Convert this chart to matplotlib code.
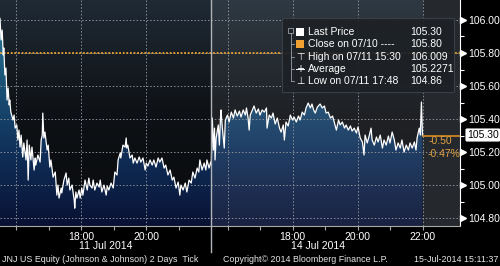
import numpy as np
import matplotlib
matplotlib.use("Agg")
import matplotlib.pyplot as plt
import matplotlib.transforms as mtransforms
from matplotlib.colors import LinearSegmentedColormap
from matplotlib.patches import Polygon, Rectangle
from matplotlib.lines import Line2D

plt.rcParams['font.family'] = ['Liberation Sans', 'DejaVu Sans']

# minutes after 15:30 for each session, and the tick price
day1_min = [0, 2, 4, 6, 7, 9, 11, 13, 15, 17, 18, 20, 24, 26, 28, 31, 33, 35, 37, 39,
            42, 44, 48, 50, 52, 54, 57, 59, 63, 65, 66, 70, 74, 76, 78, 79, 81, 83, 87, 89,
            92, 94, 98, 102, 105, 107, 109, 113, 114, 118, 122, 124, 127, 129, 133, 137, 138, 140, 142, 146,
            148, 151, 153, 157, 161, 164, 166, 170, 172, 175, 179, 183, 185, 188, 192, 196, 198, 201, 205, 209,
            212, 216, 218, 222, 223, 227, 231, 233, 234, 236, 240, 244, 246, 249, 253, 257, 260, 264, 268, 270,
            273, 277, 281, 284, 288, 292, 295, 299, 303, 306, 310, 314, 318, 321, 325, 329, 332, 334, 338, 342,
            345, 349, 353, 356, 360, 364, 367, 369, 373, 377, 380, 382, 386, 389]
day1_price = [106.009, 105.879, 105.939, 105.788, 105.830, 105.667, 105.709, 105.515, 105.588, 105.485,
              105.515, 105.442, 105.394, 105.424, 105.345, 105.364, 105.273, 105.333, 105.230, 105.303,
              105.170, 105.255, 105.152, 105.273, 105.030, 105.242, 105.152, 105.230, 105.091, 105.164,
              105.121, 105.182, 105.139, 105.273, 105.303, 105.436, 105.285, 105.321, 105.212, 105.242,
              105.109, 105.152, 105.048, 105.079, 104.939, 105.000, 104.921, 104.982, 104.952, 105.030,
              105.073, 105.000, 105.042, 104.970, 105.000, 104.909, 104.860, 104.958, 104.921, 104.970,
              104.921, 104.982, 104.939, 105.030, 104.970, 105.042, 105.000, 104.982, 105.030, 104.970,
              105.012, 104.988, 105.030, 104.958, 105.000, 104.939, 104.994, 104.970, 105.012, 104.982,
              105.079, 105.061, 105.152, 105.194, 105.164, 105.242, 105.230, 105.285, 105.224, 105.242,
              105.164, 105.182, 105.133, 105.164, 105.133, 105.170, 105.139, 105.164, 105.091, 105.133,
              105.115, 105.152, 105.121, 105.152, 105.109, 105.164, 105.139, 105.164, 105.103, 105.121,
              105.061, 105.091, 105.030, 105.048, 104.982, 105.018, 104.939, 105.000, 104.970, 105.012,
              104.958, 105.030, 105.012, 105.079, 105.042, 105.103, 105.079, 105.152, 105.091, 105.133,
              105.091, 105.152, 105.103, 105.139]

day2_min = [0, 2, 4, 6, 7, 9, 13, 15, 17, 18, 20, 24, 26, 30, 33, 37, 41, 44, 48, 52,
            55, 59, 63, 65, 68, 70, 72, 76, 79, 83, 87, 90, 94, 98, 102, 103, 107, 111, 114, 118,
            122, 126, 129, 133, 135, 138, 142, 146, 150, 153, 157, 161, 164, 168, 172, 175, 179, 183, 186, 189,
            192, 196, 201, 205, 209, 212, 216, 220, 224, 227, 231, 235, 238, 242, 246, 249, 253, 257, 260, 264,
            268, 271, 275, 279, 282, 284, 288, 292, 295, 297, 301, 305, 308, 312, 316, 319, 323, 327, 330, 334,
            338, 341, 345, 349, 352, 356, 360, 364, 367, 371, 375, 378, 380, 384, 386, 388, 390]
day2_price = [105.121, 105.406, 105.212, 105.345, 105.152, 105.285, 105.364, 105.242, 105.406, 105.455,
              105.364, 105.224, 105.394, 105.424, 105.382, 105.442, 105.406, 105.455, 105.418, 105.448,
              105.412, 105.455, 105.424, 105.467, 105.406, 105.333, 105.424, 105.455, 105.479, 105.436,
              105.461, 105.424, 105.455, 105.442, 105.467, 105.345, 105.424, 105.406, 105.436, 105.370,
              105.406, 105.345, 105.321, 105.364, 105.273, 105.382, 105.358, 105.424, 105.394, 105.412,
              105.382, 105.418, 105.394, 105.442, 105.424, 105.467, 105.497, 105.467, 105.491, 105.455,
              105.436, 105.473, 105.491, 105.467, 105.479, 105.436, 105.442, 105.406, 105.418, 105.382,
              105.333, 105.394, 105.364, 105.382, 105.345, 105.364, 105.333, 105.358, 105.327, 105.345,
              105.315, 105.352, 105.285, 105.261, 105.182, 105.303, 105.255, 105.303, 105.345, 105.273,
              105.242, 105.291, 105.261, 105.303, 105.224, 105.273, 105.242, 105.297, 105.255, 105.321,
              105.273, 105.212, 105.255, 105.224, 105.273, 105.200, 105.242, 105.212, 105.255, 105.224,
              105.261, 105.212, 105.285, 105.345, 105.303, 105.503, 105.300]

prev_close = 105.80
last_price = 105.30
y_ticks = [104.80, 105.00, 105.20, 105.40, 105.60, 105.80, 106.00]
x_labels = ['18:00', '20:00', '18:00', '20:00', '22:00']
day_labels = ['11 Jul 2014', '14 Jul 2014']
legend_labels = ['Last Price', 'Close on 07/10 ----', 'High on 07/11 15:30', 'Average', 'Low on 07/11 17:48']
legend_values = ['105.30', '105.80', '106.009', '105.2271', '104.86']
change_labels = ['-0.50', '-0.47%']

W, H = 500, 266
fig = plt.figure(figsize=(5, 2.66), dpi=100, facecolor='black')
ax = fig.add_axes([0, 40 / H, 460 / W, 226 / H])


def fx(px):
    return px / W


def fy(py):
    return 1 - py / H


sess = 6.5  # hours per session
t = np.concatenate([np.array(day1_min) / 60, sess + np.array(day2_min) / 60])
p = np.concatenate([day1_price, day2_price])

xmax = 460 / 32.5
ymin, ymax = 104.752, 106.121

# background gradients
bg = LinearSegmentedColormap.from_list('bg', ['#090b0e', '#0e1115', '#1f2a35'])
ax.imshow(np.linspace(0, 1, 256).reshape(-1, 1), extent=[0, xmax, ymin, ymax], origin='lower',
          aspect='auto', cmap=bg, zorder=0)
ax.axvspan(2 * sess, xmax, color='#25292d', lw=0, zorder=0.5)

fillc = LinearSegmentedColormap.from_list('fill', ['#091133', '#10305a', '#1c5679', '#2d7f9f'])
im = ax.imshow(np.linspace(0, 1, 256).reshape(-1, 1), extent=[0, xmax, ymin, ymax], origin='lower',
               aspect='auto', cmap=fillc, zorder=2)
verts = [(t[0], ymin)] + list(zip(t, p)) + [(t[-1], ymin)]
clip = Polygon(verts, closed=True, fc='none', ec='none')
ax.add_patch(clip)
im.set_clip_path(clip)

# second session is highlighted
ax.axvspan(sess, 2 * sess, color='white', alpha=0.07, lw=0, zorder=3)

for yv in y_ticks:
    ax.axhline(yv, color='#8a9097', lw=0.7, ls=(0, (1.5, 2)), zorder=4)
for xv in [0.5, 2.5, 4.5, sess + 0.5, sess + 2.5, sess + 4.5, 2 * sess]:
    ax.axvline(xv, color='#8a9097', lw=0.7, ls=(0, (1.5, 2)), zorder=4)

ax.axhline(prev_close, color='#e8a030', lw=1.3, ls=(0, (1, 1)), zorder=5)
ax.plot(t, p, color='white', lw=0.9, zorder=6)
ax.plot([2 * sess, xmax], [last_price, last_price], color='#d88a20', lw=1.2, zorder=6)
ax.axvline(sess, ymin=-26 / 226, ymax=1, color='#b0b4b8', lw=1, clip_on=False, zorder=7)

ax.set_xlim(0, xmax)
ax.set_ylim(ymin, ymax)

# axes styling
for s in ['top', 'left']:
    ax.spines[s].set_visible(False)
ax.spines['bottom'].set_color('#a8a8a8')
ax.spines['right'].set_color('white')

ax.set_xticks([2.5, 4.5, sess + 2.5, sess + 4.5, 2 * sess])
ax.set_xticklabels(x_labels)
ax.set_xticks([0.5 + i for i in range(6)] + [sess + 0.5 + i for i in range(7)], minor=True)
ax.tick_params(axis='x', which='both', colors='#a8a8a8', length=3, width=0.8, labelcolor='white',
               labelsize=7.5, pad=1.5)

ax.yaxis.tick_right()
ax.set_yticks(y_ticks)
ax.set_yticklabels(['%.2f' % v for v in y_ticks])
ax.set_yticks([v + 0.1 for v in y_ticks[:-1]], minor=True)
ax.tick_params(axis='y', which='major', length=0, pad=6, labelcolor='white', labelsize=7.5)
ax.tick_params(axis='y', which='minor', length=3, color='white', width=0.8)

tr = mtransforms.blended_transform_factory(ax.transAxes, ax.transData) + \
    mtransforms.ScaledTranslation(2.5 / 100, 0, fig.dpi_scale_trans)
ax.plot(np.ones(len(y_ticks)), y_ticks, ls='none', marker='>', ms=4, color='white',
        transform=tr, clip_on=False, zorder=8)

fig.text(fx(467), fy(135), '%.2f' % last_price, ha='left', va='center', color='black', size=7.5,
         bbox=dict(boxstyle='round,pad=0.15', fc='white', ec='none'))
fig.text(fx(429), fy(141), change_labels[0], ha='left', va='center', color='#e0a040', size=7.5)
fig.text(fx(428), fy(154), change_labels[1], ha='left', va='center', color='#e0a040', size=7.5)

# day labels and footer
fig.text(fx(106), fy(246), day_labels[0], ha='center', va='center', color='white', size=7.5)
fig.text(fx(318), fy(246), day_labels[1], ha='center', va='center', color='white', size=7.5)
fig.text(fx(2), fy(259), 'JNJ US Equity (Johnson & Johnson) 2 Days  Tick', ha='left', va='center',
         color='#e6e6e6', size=6.4)
fig.text(fx(223), fy(259), 'Copyright\u00a9 2014 Bloomberg Finance L.P.', ha='left', va='center',
         color='#e6e6e6', size=6.4)
fig.text(fx(498), fy(259), '15-Jul-2014 15:11:37', ha='right', va='center', color='#e6e6e6', size=6.4)

# legend box
fig.add_artist(Rectangle((fx(282), fy(92)), (454 - 282) / W, 74 / H, transform=fig.transFigure,
                         fc='#1d2125', ec='#3c4248', lw=0.8, alpha=0.92, zorder=10))
rows = [32, 44, 57, 69, 81]
for yy, lab, val in zip(rows, legend_labels, legend_values):
    fig.text(fx(308), fy(yy), lab, ha='left', va='center', color='white', size=7.5, zorder=12)
    fig.text(fx(410), fy(yy), val, ha='left', va='center', color='white', size=7.5, zorder=12)

fig.add_artist(Rectangle((fx(296), fy(36)), 8 / W, 8 / H, transform=fig.transFigure,
                         fc='white', ec='none', zorder=12))
fig.add_artist(Rectangle((fx(296), fy(48)), 8 / W, 8 / H, transform=fig.transFigure,
                         fc='#f0a030', ec='none', zorder=12))
for yy, sym in zip(rows[2:], ['\u22a4', '+', '\u22a5']):
    fig.text(fx(300), fy(yy), sym, ha='center', va='center', color='white', size=7,
             family='DejaVu Sans', zorder=12)
fig.add_artist(Line2D([fx(296), fx(304)], [fy(69), fy(69)], transform=fig.transFigure,
                      color='white', lw=0.7, zorder=12))
# tree outline
fig.add_artist(Rectangle((fx(288), fy(33)), 5 / W, 5 / H, transform=fig.transFigure,
                         fc='none', ec='#9aa0a6', lw=0.6, zorder=12))
fig.add_artist(Line2D([fx(290.5), fx(290.5)], [fy(33), fy(81)], transform=fig.transFigure,
                      color='#9aa0a6', lw=0.6, zorder=11))
for yy in rows[1:]:
    fig.add_artist(Line2D([fx(290.5), fx(294)], [fy(yy), fy(yy)], transform=fig.transFigure,
                          color='#9aa0a6', lw=0.6, zorder=11))

fig.savefig('out.png', dpi=100, facecolor='black')
